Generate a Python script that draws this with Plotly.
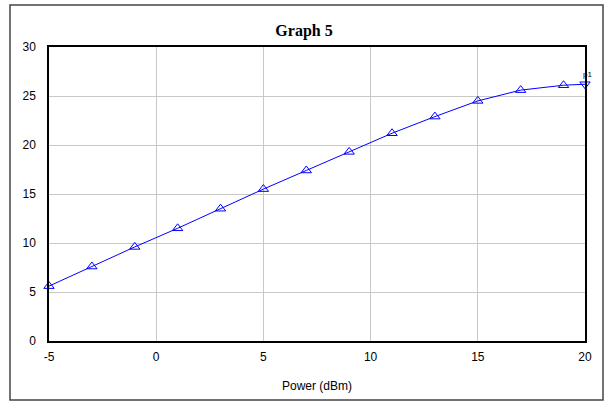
import plotly.graph_objects as go

power = [-5, -3, -1, 1, 3, 5, 7, 9, 11, 13, 15, 17, 19, 20]
gain = [5.6, 7.6, 9.6, 11.5, 13.5, 15.5, 17.4, 19.3, 21.2, 22.9, 24.5, 25.6, 26.1, 26.2]
marker_symbols = ["triangle-up-open"] * (len(power) - 1) + ["triangle-down-open"]
x_ticks = [-5, 0, 5, 10, 15, 20]
x_labels = ["-5", "0", "5", "10", "15", "20"]
y_ticks = [0, 5, 10, 15, 20, 25, 30]
y_labels = ["0", "5", "10", "15", "20", "25", "30"]

W, H = 608, 406
L, R, T, B = 49, 23, 47, 65
pw, ph = W - L - R, H - T - B

def px(xp):
    return (xp - L) / pw

def py(yp):
    return (H - B - yp) / ph

fig = go.Figure()
fig.add_trace(go.Scatter(
    x=power, y=gain, mode="lines+markers",
    line=dict(color="#0000ff", width=1),
    marker=dict(symbol=marker_symbols, size=9, color="#0000ff",
                line=dict(color="#0000ff", width=1)),
    showlegend=False, cliponaxis=False,
))

fig.add_annotation(x=power[-1], y=gain[-1], text="p1", showarrow=False,
                   xanchor="center", yanchor="bottom", yshift=3, xshift=2,
                   font=dict(family="Arial", size=8, color="#000000"))

fig.add_shape(type="rect", xref="paper", yref="paper",
              x0=px(10), x1=px(603), y0=py(400), y1=py(5),
              line=dict(color="#444444", width=1.5), layer="below")

fig.update_layout(
    width=W, height=H,
    margin=dict(l=L, r=R, t=T, b=B),
    paper_bgcolor="white", plot_bgcolor="white",
    title=dict(text="<b>Graph 5</b>", x=px(317), xanchor="center",
               y=1 - 30 / H, yanchor="middle",
               font=dict(family="Liberation Serif, Times New Roman, serif", size=16, color="#000000")),
    xaxis=dict(range=[-5, 20], tickvals=x_ticks, ticktext=x_labels,
               showgrid=True, gridcolor="#c8c8c8", gridwidth=1,
               zeroline=False, showline=True, linecolor="#000000", linewidth=1.5, mirror=True,
               ticks="", ticklen=0, ticklabelstandoff=4,
               tickfont=dict(family="Liberation Sans, Arial", size=12, color="#000000"),
               title=dict(text="Power (dBm)", standoff=18,
                          font=dict(family="Liberation Sans, Arial", size=12, color="#000000"))),
    yaxis=dict(range=[0, 30], tickvals=y_ticks, ticktext=y_labels,
               showgrid=True, gridcolor="#c8c8c8", gridwidth=1,
               zeroline=False, showline=True, linecolor="#000000", linewidth=1.5, mirror=True,
               ticks="", ticklen=0, ticklabelstandoff=9,
               tickfont=dict(family="Liberation Sans, Arial", size=12, color="#000000")),
)

fig.write_html("out.html")
